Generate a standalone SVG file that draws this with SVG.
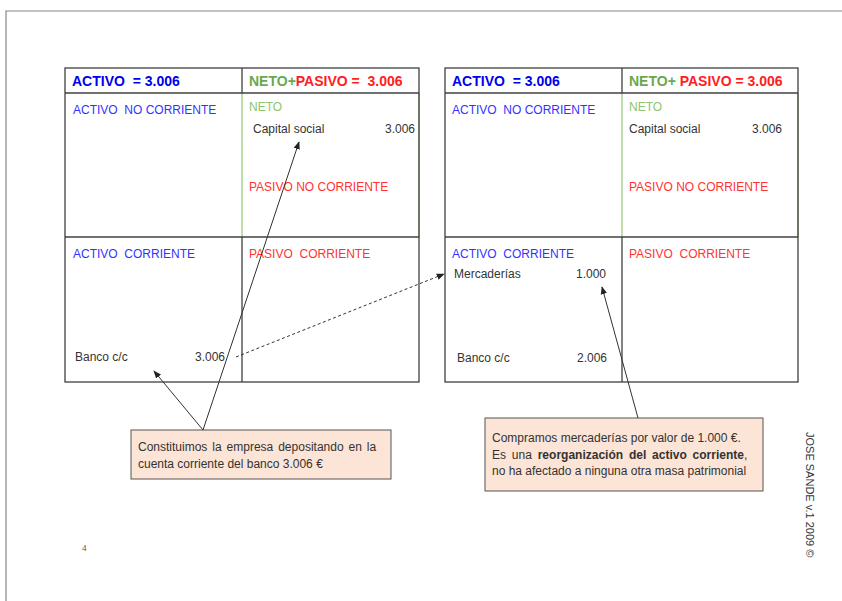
<svg xmlns="http://www.w3.org/2000/svg" width="842" height="601" viewBox="0 0 842 601">
<style>
  text { font-family: "Liberation Sans", Arial, sans-serif; }
  .hdr { font-size: 14px; font-weight: bold; }
  .b { font-size: 12px; }
  .blueH { fill: #0000ee; }
  .blue { fill: #3333ff; }
  .red { fill: #ff2020; }
  .redL { fill: #ff3333; }
  .greenH { fill: #6aa84f; }
  .greenL { fill: #8fc46e; }
  .dark { fill: #333333; }
  .frame { fill: none; stroke: #404040; stroke-width: 1.3; }
  .gline { stroke: #9acb7d; stroke-width: 1.3; }
  .note { fill: #fce4d6; stroke: #555555; stroke-width: 1; }
  .ntext { font-size: 12px; fill: #333333; }
  .arrow { stroke: #333333; stroke-width: 1; fill: none; marker-end: url(#ah); }
</style>
<defs>
  <marker id="ah" viewBox="0 0 10 10" refX="9" refY="5" markerWidth="8" markerHeight="8" markerUnits="userSpaceOnUse" orient="auto">
    <path d="M0,1 L10,5 L0,9 z" fill="#222222"/>
  </marker>
</defs>

<!-- page border -->
<g id="page">
  <path d="M842,11 L6,11 L6,601" fill="none" stroke="#888888" stroke-width="1.2"/>
  <text x="82" y="551" style="font-family:'Liberation Serif',serif;font-size:9px;fill:#555">4</text>
  <text transform="translate(806,432) rotate(90)" style="font-size:11px;fill:#333">JOSE SANDE v.1 2009 ©</text>
</g>

<!-- left balance -->
<g id="balance1">
  <line class="gline" x1="242" y1="93" x2="242" y2="237"/>
  <line class="gline" x1="419" y1="93" x2="419" y2="237"/>
  <rect class="frame" x="65" y="68" width="354" height="314"/>
  <line class="frame" x1="65" y1="93" x2="419" y2="93"/>
  <line class="frame" x1="65" y1="237" x2="419" y2="237"/>
  <line class="frame" x1="242" y1="68" x2="242" y2="93"/>
  <line class="frame" x1="242" y1="237" x2="242" y2="382"/>
  <text class="hdr blueH" x="72" y="86" xml:space="preserve">ACTIVO  = 3.006</text>
  <text class="hdr" x="249" y="86" xml:space="preserve"><tspan class="greenH">NETO+</tspan><tspan class="red">PASIVO =  3.006</tspan></text>
  <text class="b blue" x="73" y="114" xml:space="preserve">ACTIVO  NO CORRIENTE</text>
  <text class="b greenL" x="249" y="111">NETO</text>
  <text class="b dark" x="253" y="133">Capital social</text>
  <text class="b dark" x="415" y="133" text-anchor="end">3.006</text>
  <text class="b redL" x="249" y="191">PASIVO NO CORRIENTE</text>
  <text class="b blue" x="73" y="258" xml:space="preserve">ACTIVO  CORRIENTE</text>
  <text class="b redL" x="249" y="258" xml:space="preserve">PASIVO  CORRIENTE</text>
  <text class="b dark" x="75" y="361">Banco c/c</text>
  <text class="b dark" x="225" y="361" text-anchor="end">3.006</text>
</g>

<!-- right balance -->
<g id="balance2">
  <line class="gline" x1="622" y1="93" x2="622" y2="237"/>
  <line class="gline" x1="798" y1="93" x2="798" y2="237"/>
  <rect class="frame" x="445" y="68" width="353" height="314"/>
  <line class="frame" x1="445" y1="93" x2="798" y2="93"/>
  <line class="frame" x1="445" y1="237" x2="798" y2="237"/>
  <line class="frame" x1="622" y1="68" x2="622" y2="93"/>
  <line class="frame" x1="622" y1="237" x2="622" y2="382"/>
  <text class="hdr blueH" x="452" y="86" xml:space="preserve">ACTIVO  = 3.006</text>
  <text class="hdr" x="629" y="86" xml:space="preserve"><tspan class="greenH">NETO+ </tspan><tspan class="red">PASIVO = 3.006</tspan></text>
  <text class="b blue" x="452" y="114" xml:space="preserve">ACTIVO  NO CORRIENTE</text>
  <text class="b greenL" x="629" y="111">NETO</text>
  <text class="b dark" x="629" y="133">Capital social</text>
  <text class="b dark" x="782" y="133" text-anchor="end">3.006</text>
  <text class="b redL" x="629" y="191">PASIVO NO CORRIENTE</text>
  <text class="b blue" x="452" y="258" xml:space="preserve">ACTIVO  CORRIENTE</text>
  <text class="b redL" x="629" y="258" xml:space="preserve">PASIVO  CORRIENTE</text>
  <text class="b dark" x="454" y="278">Mercaderías</text>
  <text class="b dark" x="606" y="278" text-anchor="end">1.000</text>
  <text class="b dark" x="457" y="362">Banco c/c</text>
  <text class="b dark" x="607" y="362" text-anchor="end">2.006</text>
</g>

<!-- callouts -->
<g id="note1">
  <rect class="note" x="131" y="430" width="260" height="49"/>
  <text class="ntext" x="138" y="451" word-spacing="1.6">Constituimos la empresa depositando en la</text>
  <text class="ntext" x="138" y="468">cuenta corriente del banco 3.006 €</text>
</g>
<g id="note2">
  <rect class="note" x="485" y="418" width="278" height="73"/>
  <text class="ntext" x="492" y="442">Compramos mercaderías por valor de 1.000 €.</text>
  <text class="ntext" x="492" y="459" word-spacing="2.5">Es una <tspan font-weight="bold">reorganización del activo corriente</tspan>,</text>
  <text class="ntext" x="492" y="475">no ha afectado a ninguna otra masa patrimonial</text>
</g>

<!-- connectors -->
<g id="connectors">
  <line class="arrow" x1="203" y1="430" x2="299" y2="142"/>
  <line class="arrow" x1="203" y1="430" x2="154" y2="371"/>
  <line class="arrow" x1="236" y1="357" x2="444" y2="274" stroke-dasharray="3,2.5"/>
  <line class="arrow" x1="638" y1="418" x2="602" y2="287"/>
</g>
</svg>
